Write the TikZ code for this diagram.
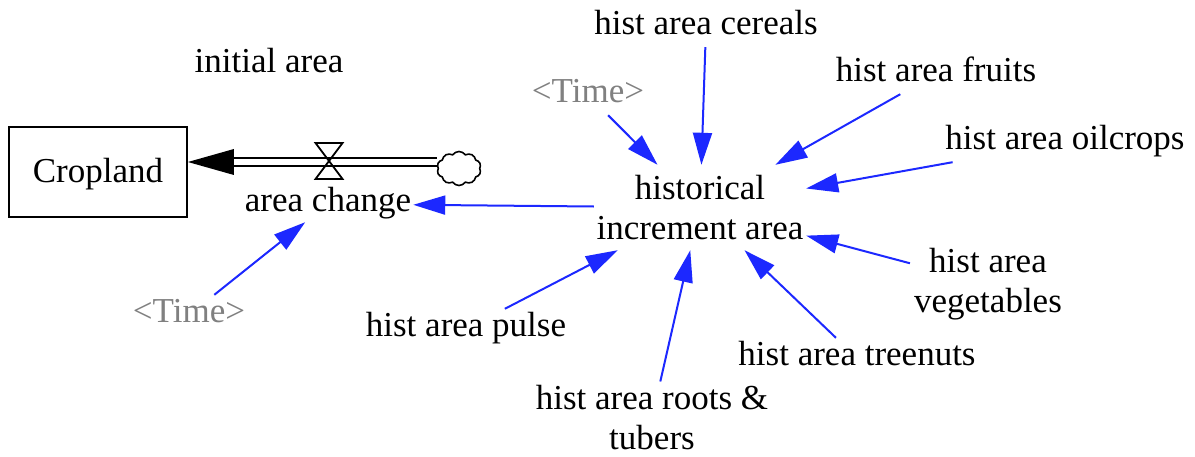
\documentclass[tikz,border=0pt]{standalone}
\usepackage{fontspec}
\setmainfont{Liberation Serif}
\usetikzlibrary{arrows.meta,shapes.symbols}
\definecolor{linkblue}{RGB}{28,40,255}
\definecolor{tgray}{RGB}{128,128,128}
\newcommand{\fs}{\fontsize{35}{40}\selectfont}
\tikzset{
  lbl/.style={font=\fs, inner sep=4pt, text height=24pt, text depth=8pt},
  two/.style={font=\fs, align=center, inner sep=4pt},
  tm/.style={lbl, text=tgray},
  link/.style={draw=linkblue, line width=2pt, -{Triangle[length=32pt,width=19pt]}},
  stock/.style={draw, line width=1.8pt, font=\fs, minimum width=178pt, minimum height=90pt, inner sep=0pt, text height=24pt, text depth=2pt},
  pipe/.style={draw=black, double=white, line width=2.2pt, double distance=5.3pt},
  valvestyle/.style={line width=1.8pt, line join=miter},
  cloudstyle/.style={cloud, cloud puffs=10, cloud puff arc=110, aspect=1.25, draw, line width=1.6pt, minimum width=44pt, minimum height=34pt, inner sep=0pt},
}
\begin{document}
\begin{tikzpicture}[x=1pt,y=-1pt]
\useasboundingbox (0,0) rectangle (1195,457);
% stock and flow
\node[stock] (crop) at (98,172) {Cropland};
\node[cloudstyle] (cl) at (459,168.5) {};
\coordinate (pR) at (437,162);
\coordinate (pL) at (crop.east |- pR);
\draw[pipe] (pR) -- ([xshift=40pt]pL);
\fill[black] (pL) -- ++(46,-13) -- ++(0,26) -- cycle;
\coordinate (v) at (329,161);
\draw[valvestyle, shift={(v)}] (-13.5,-18) -- (13.5,-18) -- (-13.5,18) -- (13.5,18) -- cycle;
\node[font=\fs, inner sep=2pt, text height=24pt, text depth=8pt] (ac) at (328,204) {area change};
% labels
\node[lbl] (init) at (269,65) {initial area};
\node[tm] (t1) at (588,95) {<Time>};
\node[tm] (t2) at (189,315) {<Time>};
\node[font=\fs, align=center, minimum width=212pt, minimum height=85pt, inner sep=0pt] (hist) at (700,207.5) {historical\\increment area};
\node[lbl] (cer) at (706,27) {hist area cereals};
\node[lbl] (fru) at (936,74) {hist area fruits};
\node[lbl] (oil) at (1065,142) {hist area oilcrops};
\node[two] (veg) at (988,284) {hist area\\vegetables};
\node[lbl] (tree) at (857,358) {hist area treenuts};
\node[two] (root) at (652,418) {hist area roots \&\\tubers};
\node[lbl] (pul) at (466,329) {hist area pulse};
% links
\draw[link] (t1) -- (hist);
\draw[link] (cer) -- (hist);
\draw[link] (fru) -- (hist);
\draw[link] (oil) -- (hist);
\draw[link] (veg) -- (hist);
\draw[link] (tree) -- (hist);
\draw[link] (root) -- (hist);
\draw[link] (pul) -- (hist);
\draw[link] (hist) -- (ac);
\draw[link] (t2) -- (ac);
\end{tikzpicture}
\end{document}
